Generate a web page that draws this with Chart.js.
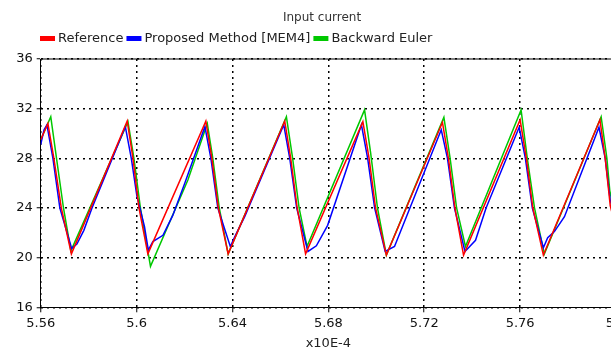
<!DOCTYPE html>
<html>
<head>
<meta charset="utf-8">
<title>Input current</title>
<script src="https://cdn.jsdelivr.net/npm/chart.js@4/dist/chart.umd.min.js"></script>
<style>
  html, body { margin: 0; padding: 0; background: #fff; overflow: hidden; }
  canvas { display: block; }
</style>
</head>
<body>
<canvas id="currentChart" width="644" height="350"></canvas>
<script>
// time axis is in units of 1e-4 s (label "x10E-4")
const seriesLabels = ["Reference", "Proposed Method [MEM4]", "Backward Euler"];
const seriesColors = ["#ff0000", "#0000ff", "#00c800"];

const xTicks = [5.56, 5.6, 5.64, 5.68, 5.72, 5.76, 5.8];
const yTicks = [16, 20, 24, 28, 32, 36];

// Reference
const refTime = [5.5600, 5.5630, 5.5655, 5.5686, 5.5728, 5.5961, 5.5985, 5.6010, 5.6047,
  5.6289, 5.6314, 5.6341, 5.6382, 5.6618, 5.6643, 5.6670, 5.6705, 5.6944, 5.6970, 5.6997,
  5.7042, 5.7276, 5.7301, 5.7328, 5.7364, 5.7600, 5.7626, 5.7653, 5.7697, 5.7933, 5.7955,
  5.7976, 5.8000];
const refCurrent = [29.5, 30.8, 28.0, 24.0, 20.3, 31.0, 28.0, 24.0, 20.3,
  31.0, 28.0, 24.0, 20.3, 31.0, 28.0, 24.0, 20.3, 30.95, 28.0, 24.0,
  20.2, 30.9, 28.0, 24.0, 20.2, 31.1, 28.0, 24.0, 20.2, 31.1, 28.0,
  24.2, 22.3];

// Proposed Method [MEM4]
const mem4Time = [5.5600, 5.5614, 5.5626, 5.5651, 5.5680, 5.5729, 5.5751, 5.5780, 5.5814,
  5.5953, 5.5978, 5.6001, 5.6033, 5.6049, 5.6068, 5.6110, 5.6151, 5.6201, 5.6285, 5.6310,
  5.6339, 5.6391, 5.6410, 5.6451, 5.6614, 5.6639, 5.6668, 5.6715, 5.6750, 5.6797, 5.6938,
  5.6964, 5.6993, 5.7037, 5.7076, 5.7271, 5.7297, 5.7326, 5.7370, 5.7414, 5.7458, 5.7596,
  5.7622, 5.7651, 5.7697, 5.7715, 5.7743, 5.7785, 5.7929, 5.7955, 5.7976, 5.8000];
const mem4Current = [29.1, 30.3, 30.7, 28.0, 24.0, 20.75, 21.1, 22.2, 24.0,
  30.55, 28.0, 25.0, 22.5, 20.6, 21.3, 21.8, 23.4, 26.0, 30.55, 28.0,
  24.0, 20.9, 21.7, 23.3, 30.7, 28.0, 24.0, 20.5, 20.95, 22.6, 30.7,
  28.0, 24.0, 20.5, 20.9, 30.3, 28.0, 24.0, 20.5, 21.4, 24.0, 30.5,
  28.0, 24.0, 20.8, 21.6, 22.1, 23.3, 30.5, 28.0, 24.6, 23.0];

// Backward Euler
const beTime = [5.5600, 5.5642, 5.5666, 5.5695, 5.5726, 5.5964, 5.5989, 5.6016, 5.6058,
  5.6214, 5.6295, 5.6318, 5.6345, 5.6382, 5.6625, 5.6651, 5.6678, 5.6711, 5.6951, 5.6976,
  5.7005, 5.7042, 5.7282, 5.7308, 5.7335, 5.7372, 5.7604, 5.7630, 5.7660, 5.7701, 5.7938,
  5.7962, 5.7974, 5.8000];
const beCurrent = [29.5, 31.35, 28.0, 24.0, 20.55, 30.95, 28.0, 24.0, 19.3,
  26.25, 30.8, 28.0, 24.0, 20.3, 31.35, 28.0, 24.0, 20.9, 31.9, 28.5,
  24.0, 20.2, 31.3, 28.0, 24.0, 20.9, 31.9, 28.0, 24.0, 20.3, 31.35,
  28.0, 25.4, 23.0];

function toPoints(times, values) {
  return times.map((t, i) => ({ x: t, y: values[i] }));
}

const FONT = "'DejaVu Sans', sans-serif";

// legend drawn as one compact row, like the original plot
const compactLegend = {
  id: "compactLegend",
  afterDraw(chart) {
    const ctx = chart.ctx;
    ctx.save();
    ctx.font = "13px " + FONT;
    ctx.textBaseline = "middle";
    ctx.textAlign = "left";
    let x = 40;
    const y = 38.5;
    chart.data.datasets.forEach(ds => {
      ctx.fillStyle = ds.borderColor;
      ctx.fillRect(x, y - 2.5, 15, 5);
      ctx.fillStyle = "#222";
      ctx.fillText(ds.label, x + 18, y);
      x += 18 + ctx.measureText(ds.label).width + 3;
    });
    ctx.restore();
  }
};

// solid frame line along the top (and right) of the plot area
const topFrame = {
  id: "topFrame",
  afterDraw(chart) {
    const { ctx, chartArea } = chart;
    ctx.save();
    ctx.strokeStyle = "#000";
    ctx.lineWidth = 1;
    ctx.beginPath();
    ctx.moveTo(chartArea.left, chartArea.top);
    ctx.lineTo(chartArea.right, chartArea.top);
    ctx.lineTo(chartArea.right, chartArea.bottom);
    ctx.stroke();
    ctx.restore();
  }
};

document.addEventListener("DOMContentLoaded", function () {
  const canvas = document.getElementById("currentChart");

  const datasets = [
    toPoints(refTime, refCurrent),
    toPoints(mem4Time, mem4Current),
    toPoints(beTime, beCurrent)
  ].map((pts, i) => ({
    label: seriesLabels[i],
    data: pts,
    borderColor: seriesColors[i],
    backgroundColor: seriesColors[i],
    borderWidth: 1.5,
    pointRadius: 0,
    tension: 0,
    fill: false
  }));

  const gridStyle = {
    color: "#000",
    lineWidth: 1.5,
    tickWidth: 1,
    tickBorderDash: []
  };

  new Chart(canvas.getContext("2d"), {
    type: "line",
    data: { datasets: datasets },
    plugins: [compactLegend, topFrame],
    options: {
      responsive: false,
      animation: false,
      layout: { padding: 0 },
      plugins: {
        legend: { display: false },
        tooltip: { enabled: false },
        title: {
          display: true,
          text: "Input current",
          color: "#333",
          font: { family: FONT, size: 12, weight: "normal" },
          padding: { top: 11, bottom: 33.6 }
        }
      },
      scales: {
        x: {
          type: "linear",
          min: 5.56,
          max: 5.8,
          afterBuildTicks: s => { s.ticks = xTicks.map(v => ({ value: v })); },
          afterFit: s => { s.height = 42.7; },
          grid: Object.assign({ tickLength: 5 }, gridStyle),
          border: { display: true, color: "#000", width: 1, dash: [2, 4] },
          ticks: {
            color: "#111",
            padding: 4,
            maxRotation: 0,
            autoSkip: false,
            font: { family: FONT, size: 13 },
            callback: v => String(+v.toFixed(2))
          },
          title: {
            display: true,
            text: "x10E-4",
            color: "#222",
            font: { family: FONT, size: 13 },
            padding: { top: 0, bottom: -1 }
          }
        },
        y: {
          min: 16,
          max: 36,
          afterBuildTicks: s => { s.ticks = yTicks.map(v => ({ value: v })); },
          afterFit: s => { s.width = 40.7; },
          grid: Object.assign({ tickLength: 4 }, gridStyle),
          border: { display: true, color: "#000", width: 1, dash: [2, 4] },
          ticks: {
            color: "#111",
            padding: 4,
            autoSkip: false,
            font: { family: FONT, size: 13 },
            callback: v => String(v)
          }
        },
        // empty right-hand strip, keeps the plot edge at 5.8 past the window
        yRight: {
          position: "right",
          min: 16,
          max: 36,
          afterFit: s => { s.width = 28; },
          grid: { display: false },
          border: { display: false },
          ticks: { display: false }
        }
      }
    }
  });
});
</script>
</body>
</html>
